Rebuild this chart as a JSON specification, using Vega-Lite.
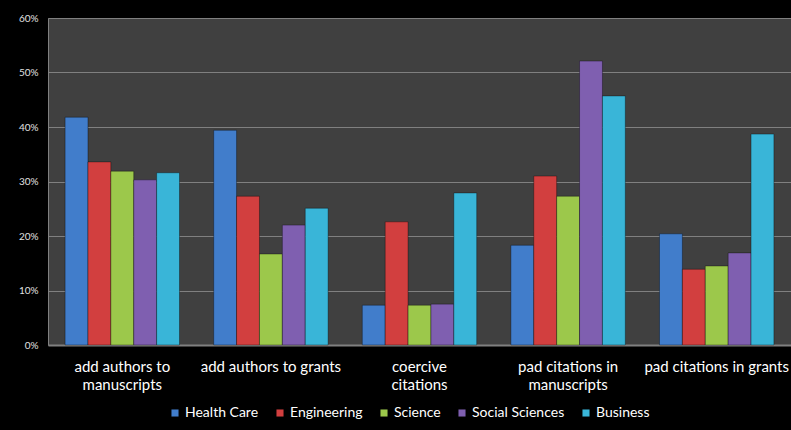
{
  "$schema": "https://vega.github.io/schema/vega-lite/v6.json",
  "width": 743,
  "height": 327,
  "autosize": {"type": "none"},
  "padding": {"left": 48, "top": 18, "right": 0, "bottom": 85},
  "background": "#000000",
  "data": {
    "values": [
      {"behavior": "add authors to manuscripts", "field": "Health Care", "share": 0.418},
      {"behavior": "add authors to manuscripts", "field": "Engineering", "share": 0.336},
      {"behavior": "add authors to manuscripts", "field": "Science", "share": 0.319},
      {"behavior": "add authors to manuscripts", "field": "Social Sciences", "share": 0.303},
      {"behavior": "add authors to manuscripts", "field": "Business", "share": 0.316},
      {"behavior": "add authors to grants", "field": "Health Care", "share": 0.394},
      {"behavior": "add authors to grants", "field": "Engineering", "share": 0.273},
      {"behavior": "add authors to grants", "field": "Science", "share": 0.167},
      {"behavior": "add authors to grants", "field": "Social Sciences", "share": 0.220},
      {"behavior": "add authors to grants", "field": "Business", "share": 0.251},
      {"behavior": "coercive citations", "field": "Health Care", "share": 0.073},
      {"behavior": "coercive citations", "field": "Engineering", "share": 0.226},
      {"behavior": "coercive citations", "field": "Science", "share": 0.073},
      {"behavior": "coercive citations", "field": "Social Sciences", "share": 0.075},
      {"behavior": "coercive citations", "field": "Business", "share": 0.279},
      {"behavior": "pad citations in manuscripts", "field": "Health Care", "share": 0.183},
      {"behavior": "pad citations in manuscripts", "field": "Engineering", "share": 0.310},
      {"behavior": "pad citations in manuscripts", "field": "Science", "share": 0.273},
      {"behavior": "pad citations in manuscripts", "field": "Social Sciences", "share": 0.521},
      {"behavior": "pad citations in manuscripts", "field": "Business", "share": 0.457},
      {"behavior": "pad citations in grants", "field": "Health Care", "share": 0.204},
      {"behavior": "pad citations in grants", "field": "Engineering", "share": 0.139},
      {"behavior": "pad citations in grants", "field": "Science", "share": 0.145},
      {"behavior": "pad citations in grants", "field": "Social Sciences", "share": 0.169},
      {"behavior": "pad citations in grants", "field": "Business", "share": 0.387}
    ]
  },
  "mark": {"type": "bar", "stroke": "#000000", "strokeOpacity": 0.35, "strokeWidth": 1},
  "encoding": {
    "x": {
      "field": "behavior",
      "type": "nominal",
      "sort": null,
      "title": null,
      "scale": {"paddingInner": 0.23, "paddingOuter": 0.115},
      "axis": {
        "labelAngle": 0,
        "labelColor": "#ffffff",
        "labelFont": "Lato",
        "labelFontSize": 15,
        "labelPadding": 21,
        "labelLineHeight": 18,
        "labelBaseline": "middle",
        "labelBound": false,
        "ticks": false,
        "domainColor": "#808080",
        "domainWidth": 2,
        "labelExpr": "datum.label == 'add authors to manuscripts' ? ['add authors to', 'manuscripts'] : datum.label == 'coercive citations' ? ['coercive', 'citations'] : datum.label == 'pad citations in manuscripts' ? ['pad citations in', 'manuscripts'] : datum.label"
      }
    },
    "xOffset": {"field": "field", "type": "nominal", "sort": ["Health Care", "Engineering", "Science", "Social Sciences", "Business"]},
    "y": {
      "field": "share",
      "type": "quantitative",
      "title": null,
      "scale": {"domain": [0, 0.6], "nice": false},
      "axis": {
        "values": [0, 0.1, 0.2, 0.3, 0.4, 0.5, 0.6],
        "format": ".0%",
        "labelColor": "#e0e0e0",
        "labelFont": "Lato",
        "labelFontSize": 10,
        "labelPadding": 10,
        "ticks": false,
        "domainColor": "#808080",
        "gridColor": "#808080",
        "gridWidth": 1
      }
    },
    "color": {
      "field": "field",
      "type": "nominal",
      "sort": ["Health Care", "Engineering", "Science", "Social Sciences", "Business"],
      "scale": {
        "domain": ["Health Care", "Engineering", "Science", "Social Sciences", "Business"],
        "range": ["#417dcb", "#d23f3f", "#9cc84b", "#7f5fb0", "#39b5d8"]
      },
      "legend": {
        "orient": "none",
        "legendX": 120,
        "legendY": 388,
        "direction": "horizontal",
        "title": null,
        "symbolType": "square",
        "symbolSize": 50,
        "symbolStrokeWidth": 0,
        "labelColor": "#ffffff",
        "labelFont": "Lato",
        "labelFontSize": 14,
        "labelOffset": 3,
        "columnPadding": 14
      }
    }
  },
  "config": {
    "view": {"fill": "#404040", "stroke": null}
  }
}
